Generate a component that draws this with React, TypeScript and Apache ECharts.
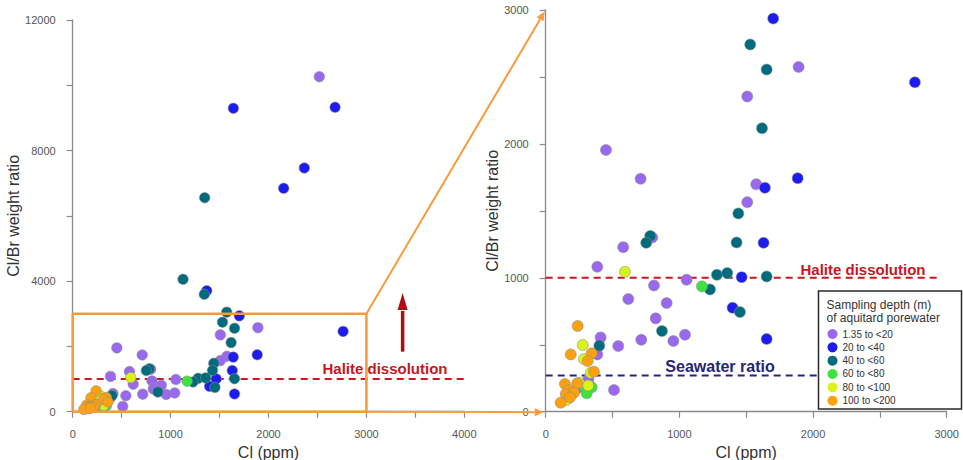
import React, { useEffect, useRef } from "react";
import * as echarts from "echarts";

const FONT = "'Liberation Sans', Arial, Helvetica, sans-serif";

// Depth classes (legend)
const depthClasses = ["1.35 to <20", "20 to <40", "40 to <60", "60 to <80", "80 to <100", "100 to <200"];

// [Cl (ppm), Cl/Br weight ratio]
const depth1to20 = [
  [451, 1955], [710, 1739], [1575, 1699], [1508, 1565], [1508, 2354], [1892, 2575],
  [797, 1301], [580, 1229], [386, 1082], [1054, 985], [810, 943], [618, 841],
  [905, 811], [823, 697], [411, 555], [715, 537], [1042, 575], [955, 528],
  [543, 490], [386, 428], [319, 242], [251, 182], [511, 162], [2519, 10263],
];
const depth20to40 = [
  [1702, 2936], [2762, 2460], [1885, 1744], [1640, 1672], [1630, 1261], [1466, 1005],
  [1398, 776], [1653, 543], [1641, 9295], [2680, 9326], [2366, 7466], [2155, 6844],
  [1369, 3707],
];
const depth40to60 = [
  [1530, 2742], [1653, 2555], [1618, 2117], [1441, 1481], [782, 1313], [752, 1261],
  [1428, 1264], [1281, 1022], [1358, 1035], [1653, 1010], [1229, 913], [1453, 744],
  [870, 602], [401, 493], [1348, 6556], [1127, 4056], [1344, 3597], [1573, 3050],
];
const depth60to80 = [[1169, 936], [344, 182], [294, 182], [307, 137]];
const depth80to100 = [[593, 1045], [277, 498], [286, 393], [337, 291], [249, 216], [157, 87], [318, 196]];
const depth100to200 = [
  [239, 640], [187, 428], [344, 436], [314, 378], [361, 299], [144, 207],
  [236, 212], [174, 162], [150, 132], [212, 142], [112, 67], [182, 107],
];

const pointsByClass = [depth1to20, depth20to40, depth40to60, depth60to80, depth80to100, depth100to200];

// Tick labels
const leftXLabels = [0, 1000, 2000, 3000, 4000];
const leftYLabels = [0, 4000, 8000, 12000];
const rightXLabels = [0, 1000, 2000, 3000];
const rightYLabels = [0, 1000, 2000, 3000];

// Reference ratios
const HALITE_RATIO = 1000;
const SEAWATER_RATIO = 270;
const ZOOM_LIMIT = 3000;

// styles
const classColors = ["#9a68ee", "#1c1cee", "#006b7c", "#3ee23e", "#d9f31a", "#fba10e"];
const ORANGE = "#f99b3d";
const RED = "#c8161d";
const NAVY = "#25257a";

function axisCommon(labels: number[]) {
  return {
    type: "value" as const,
    splitLine: { show: false },
    axisLine: { show: true, lineStyle: { color: "#8a8a8a", width: 1.3 } },
    axisTick: { show: true, length: 6, lineStyle: { color: "#8a8a8a", width: 1.2 } },
    axisLabel: {
      color: "#555",
      fontSize: 11,
      fontFamily: FONT,
      margin: 17,
      formatter: (v: number) => (labels.includes(v) ? String(v) : ""),
    },
    nameLocation: "middle" as const,
    nameTextStyle: { fontSize: 16, color: "#333", fontFamily: FONT },
  };
}

export default function App() {
  const ref = useRef<HTMLDivElement>(null);
  useEffect(() => {
    if (!ref.current) return;
    const chart = echarts.init(ref.current, undefined, { renderer: "svg" });

    const series: any[] = [];
    // reference lines (under points)
    series.push({
      type: "line", xAxisIndex: 0, yAxisIndex: 0, silent: true, symbol: "none", z: 1,
      data: [[0, HALITE_RATIO], [4000, HALITE_RATIO]],
      lineStyle: { color: RED, width: 2, type: [7, 5] },
    });
    series.push({
      type: "line", xAxisIndex: 1, yAxisIndex: 1, silent: true, symbol: "none", z: 1,
      data: [[0, HALITE_RATIO], [2950, HALITE_RATIO]],
      lineStyle: { color: RED, width: 2, type: [7, 5] },
    });
    series.push({
      type: "line", xAxisIndex: 1, yAxisIndex: 1, silent: true, symbol: "none", z: 1,
      data: [[0, SEAWATER_RATIO], [2950, SEAWATER_RATIO]],
      lineStyle: { color: NAVY, width: 2, type: [7, 5] },
    });
    for (let g = 0; g < 2; g++) {
      pointsByClass.forEach((pts, i) => {
        series.push({
          name: depthClasses[i],
          type: "scatter",
          xAxisIndex: g,
          yAxisIndex: g,
          data: pts,
          symbol: "circle",
          symbolSize: g === 0 ? 10.5 : 11,
          clip: true,
          z: 2,
          itemStyle: { color: classColors[i], borderColor: "rgba(140,140,140,0.8)", borderWidth: 0.7, opacity: 1 },
        });
      });
    }
    // zoom box on the left chart
    series.push({
      type: "line", xAxisIndex: 0, yAxisIndex: 0, silent: true, symbol: "none", z: 5,
      data: [[0, 0], [ZOOM_LIMIT, 0], [ZOOM_LIMIT, ZOOM_LIMIT], [0, ZOOM_LIMIT], [0, 0]],
      lineStyle: { color: ORANGE, width: 2.5 },
    });

    chart.setOption({
      animation: false,
      textStyle: { fontFamily: FONT },
      grid: [
        { left: 72.7, top: 20, width: 391.6, height: 391.7, outerBoundsMode: "none", containLabel: false },
        { left: 545.7, top: 10, width: 401, height: 401.7, outerBoundsMode: "none", containLabel: false },
      ],
      xAxis: [
        { ...axisCommon(leftXLabels), gridIndex: 0, min: 0, max: 4000, interval: 500, name: "Cl (ppm)", nameGap: 30 },
        { ...axisCommon(rightXLabels), gridIndex: 1, min: 0, max: 3000, interval: 500, name: "Cl (ppm)", nameGap: 30 },
      ],
      yAxis: [
        { ...axisCommon(leftYLabels), gridIndex: 0, min: 0, max: 12000, interval: 2000, name: "Cl/Br weight ratio", nameGap: 50 },
        { ...axisCommon(rightYLabels), gridIndex: 1, min: 0, max: 3000, interval: 500, name: "Cl/Br weight ratio", nameGap: 45 },
      ],
      legend: {
        data: depthClasses,
        orient: "vertical",
        left: 827.5,
        top: 328,
        padding: 0,
        itemGap: 1.33,
        itemWidth: 10,
        itemHeight: 10,
        icon: "circle",
        z: 10,
        selectedMode: false,
        itemStyle: { borderWidth: 0 },
        textStyle: { fontSize: 10, color: "#333", fontFamily: FONT, lineHeight: 12 },
      },
      series,
    });

    const p = (grid: number, v: number[]) => chart.convertToPixel({ gridIndex: grid }, v) as number[];
    const arrowHead = (s: number[], e: number[], len: number, half: number, color: string, z: number) => {
      const dx = e[0] - s[0], dy = e[1] - s[1];
      const l = Math.hypot(dx, dy);
      const ux = dx / l, uy = dy / l;
      const nx = -uy, ny = ux;
      const bx = e[0] - ux * len, by = e[1] - uy * len;
      return {
        el: {
          type: "polygon", z, silent: true,
          shape: { points: [[e[0], e[1]], [bx + nx * half, by + ny * half], [bx - nx * half, by - ny * half]] },
          style: { fill: color },
        },
        base: [bx, by],
      };
    };

    const topStart = p(0, [ZOOM_LIMIT, ZOOM_LIMIT]);
    const topEnd0 = p(1, [0, ZOOM_LIMIT]);
    const topEnd = [topEnd0[0] - 1, topEnd0[1] + 1.5];
    const botStart = p(0, [ZOOM_LIMIT, 0]);
    const botEnd0 = p(1, [0, 0]);
    const botEnd = [botEnd0[0] - 2, botEnd0[1] + 0.5];
    const topHead = arrowHead(topStart, topEnd, 9, 4, ORANGE, 20);
    const botHead = arrowHead(botStart, botEnd, 9, 4, ORANGE, 20);

    const redBottom = p(0, [3370, 1840]);
    const redTip = p(0, [3370, 3640]);
    const redHead = arrowHead(redBottom, redTip, 17, 5, "#b00a14", 20);

    const graphic: any[] = [
      { type: "line", z: 20, silent: true, shape: { x1: topStart[0], y1: topStart[1], x2: topHead.base[0], y2: topHead.base[1] }, style: { stroke: ORANGE, lineWidth: 2 } },
      topHead.el,
      { type: "line", z: 20, silent: true, shape: { x1: botStart[0], y1: botStart[1], x2: botHead.base[0], y2: botHead.base[1] }, style: { stroke: ORANGE, lineWidth: 2 } },
      botHead.el,
      { type: "line", z: 20, silent: true, shape: { x1: redBottom[0], y1: redBottom[1], x2: redHead.base[0], y2: redHead.base[1] + 1 }, style: { stroke: "#b00a14", lineWidth: 3.5 } },
      redHead.el,
      { type: "text", z: 20, silent: true, x: 385, y: 368, style: { text: "Halite dissolution", fill: RED, font: `bold 15px ${FONT}`, align: "center", verticalAlign: "middle" } },
      { type: "text", z: 20, silent: true, x: 863, y: 269.5, style: { text: "Halite dissolution", fill: RED, font: `bold 15px ${FONT}`, align: "center", verticalAlign: "middle" } },
      { type: "text", z: 20, silent: true, x: 720, y: 366, style: { text: "Seawater ratio", fill: NAVY, font: `bold 16px ${FONT}`, align: "center", verticalAlign: "middle" } },
      { type: "rect", z: 6, silent: true, shape: { x: 818.5, y: 291, width: 143, height: 118 }, style: { fill: "#fff", stroke: "#2a2a2a", lineWidth: 1.5 } },
      { type: "text", z: 11, silent: true, x: 826.5, y: 305, style: { text: "Sampling depth (m)", fill: "#333", font: `12px ${FONT}`, align: "left", verticalAlign: "middle" } },
      { type: "text", z: 11, silent: true, x: 826.5, y: 318, style: { text: "of aquitard porewater", fill: "#333", font: `12px ${FONT}`, align: "left", verticalAlign: "middle" } },
    ];
    chart.setOption({ graphic });

    return () => chart.dispose();
  }, []);
  return <div ref={ref} style={{ position: "absolute", left: 0, top: 0, width: 963, height: 460, background: "#fff" }} />;
}
